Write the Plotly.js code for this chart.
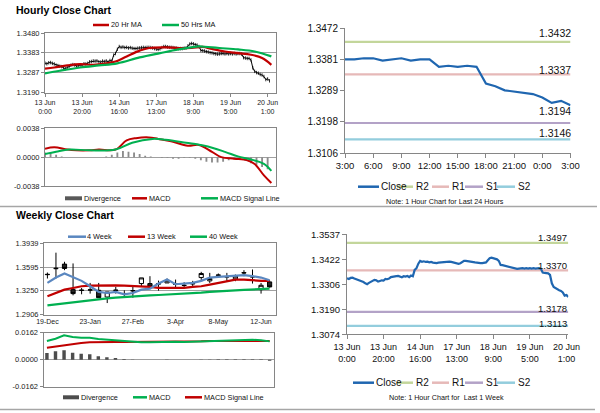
<!DOCTYPE html>
<html><head><meta charset="utf-8">
<script src="https://cdn.plot.ly/plotly-3.0.1.min.js"></script>
<style>html,body{margin:0;padding:0;background:#fff}#chart{width:600px;height:413px}</style>
</head><body><div id="chart"></div>
<script>
// ================= DATA =================
// Hourly (last 1 week), x = hour index
const hourTickIdx = [0, 20, 40, 60, 80, 100, 120];
const hourTickText = ['13 Jun<br>0:00','13 Jun<br>20:00','14 Jun<br>16:00','17 Jun<br>13:00','18 Jun<br>9:00','19 Jun<br>5:00','20 Jun<br>1:00'];
const hourPriceTicks = ['1.3190','1.3287','1.3383','1.3480'];
const hourMacdTicks = ['-0.0038','0.0000','0.0038'];
const hourClose = [
 1.3333,1.3330,1.3335,1.3336,1.3332,1.3329,1.3323,1.3321,1.3318,1.3316,
 1.3310,1.3306,1.3312,1.3318,1.3323,1.3326,1.3324,1.3318,1.3321,1.3324,
 1.3323,1.3330,1.3329,1.3332,1.3339,1.3341,1.3344,1.3343,1.3344,1.3339,
 1.3338,1.3343,1.3341,1.3344,1.3339,1.3346,1.3343,1.3372,1.3380,1.3401,
 1.3414,1.3410,1.3412,1.3409,1.3410,1.3407,1.3409,1.3406,1.3404,1.3404,
 1.3406,1.3407,1.3409,1.3410,1.3409,1.3410,1.3410,1.3409,1.3407,1.3404,
 1.3401,1.3400,1.3403,1.3409,1.3414,1.3414,1.3412,1.3410,1.3410,1.3409,
 1.3407,1.3406,1.3404,1.3404,1.3404,1.3406,1.3407,1.3417,1.3426,1.3429,
 1.3427,1.3423,1.3421,1.3414,1.3395,1.3394,1.3392,1.3389,1.3387,1.3384,
 1.3383,1.3380,1.3378,1.3377,1.3378,1.3380,1.3380,1.3378,1.3380,1.3378,
 1.3380,1.3378,1.3380,1.3378,1.3380,1.3380,1.3377,1.3360,1.3358,1.3356,
 1.3356,1.3349,1.3310,1.3293,1.3287,1.3284,1.3278,1.3275,1.3268,1.3253,
 1.3256,1.3247];
const ma20Idx = [0,5,12,19,26,33,38,44,51,56,65,72,79,85,90,97,104,111,117,122];
const ma20Val = [1.3306,1.3312,1.3322,1.3328,1.3325,1.3332,1.3341,1.3366,1.3394,1.3407,1.3410,1.3407,1.3407,1.3412,1.3402,1.3390,1.3382,1.3374,1.3358,1.3325];
const ma50Idx = [0,8,19,29,39,51,62,72,83,86,94,104,113,122];
const ma50Val = [1.3283,1.3296,1.3312,1.3322,1.3332,1.3361,1.3382,1.3400,1.3415,1.3413,1.3407,1.3400,1.3390,1.3366];
const macdHIdx = [0,5,12,17,24,29,38,44,49,56,61,68,77,83,90,95,102,109,113,118,122];
const macdHVal = [0.0011,0.0013,0.0010,0.0009,0.0009,0.0010,0.0010,0.0022,0.0025,0.0026,0.0024,0.0021,0.0015,0.0016,0.0007,0.0000,-0.0002,-0.0004,-0.0009,-0.0024,-0.0034];
const sigHIdx = [0,6,13,24,38,47,58,65,76,86,97,104,111,118,122];
const sigHVal = [0.0004,0.0007,0.0010,0.0009,0.0010,0.0019,0.0024,0.0023,0.0019,0.0015,0.0007,0.0001,-0.0003,-0.0009,-0.0018];
const divHVal = [0.0006,0.0005,0.0003,0.0001,0.0000,0.0000,0.0000,0.0000,0.0000,0.0000,
 0.0000,0.0001,0.0003,0.0006,0.0008,0.0007,0.0006,0.0004,0.0002,0.0001,
 0.0000,-0.0001,-0.0001,-0.0002,-0.0002,-0.0001,-0.0001,-0.0002,-0.0004,-0.0006,
 -0.0007,-0.0007,-0.0006,-0.0004,-0.0003,-0.0003,-0.0005,-0.0008,-0.0010,-0.0013,-0.0016];
const divHStep = 3; // one divergence bar every 3 hours

// Last 24 hours
const day24Ticks = ['3:00','6:00','9:00','12:00','15:00','18:00','21:00','0:00','3:00'];
const day24YTicks = ['1.3106','1.3198','1.3289','1.3381','1.3472'];
const close24 = [1.3381,1.3381,1.3384,1.3384,1.3377,1.3381,1.3384,1.3377,1.3381,1.3381,
 1.3359,1.3362,1.3359,1.3362,1.3359,1.3310,1.3302,1.3290,1.3287,1.3283,1.3279,1.3269,1.3253,1.3259,1.3246];
const levelNames = ['R2','R1','S1','S2'];
const levels24 = [1.3432, 1.3337, 1.3194, 1.3146];
const levelsWeek = [1.3497, 1.3370, 1.3178, 1.3113];
const weekHourYTicks = ['1.3074','1.3190','1.3306','1.3422','1.3537'];

// Weekly
const weekTickText = ['19-Dec','23-Jan','27-Feb','3-Apr','8-May','12-Jun'];
const weekPriceTicks = ['1.2906','1.3250','1.3595','1.3939'];
const weekMacdTicks = ['-0.0162','0.0000','0.0162'];
const weekOpen  = [1.3484,1.3570,1.3637,1.3267,1.3255,1.3260,1.3257,1.3160,1.3255,1.3207,1.3248,1.3355,1.3355,1.3348,1.3364,1.3343,1.3326,1.3350,1.3442,1.3394,1.3474,1.3450,1.3423,1.3508,1.3450,1.3267,1.3379];
const weekHigh  = [1.3515,1.3803,1.3671,1.3647,1.3291,1.3364,1.3364,1.3233,1.3306,1.3257,1.3325,1.3437,1.3462,1.3398,1.3428,1.3413,1.3374,1.3394,1.3525,1.3510,1.3501,1.3510,1.3486,1.3549,1.3559,1.3364,1.3403];
const weekLow   = [1.3428,1.3428,1.3549,1.3184,1.3199,1.3209,1.3150,1.3072,1.3209,1.3160,1.3150,1.3320,1.3282,1.3252,1.3374,1.3282,1.3291,1.3306,1.3394,1.3364,1.3452,1.3394,1.3389,1.3462,1.3355,1.3209,1.3296];
const weekClose = [1.3488,1.3576,1.3574,1.3209,1.3259,1.3264,1.3150,1.3233,1.3259,1.3211,1.3252,1.3437,1.3306,1.3352,1.3403,1.3347,1.3330,1.3354,1.3501,1.3428,1.3478,1.3454,1.3462,1.3512,1.3454,1.3330,1.3306];
const ma4w  = [1.3364,1.3442,1.3501,1.3452,1.3394,1.3316,1.3233,1.3218,1.3233,1.3199,1.3218,1.3267,1.3282,1.3355,1.3413,1.3345,1.3355,1.3364,1.3394,1.3442,1.3452,1.3462,1.3462,1.3476,1.3462,1.3442,1.3403];
const ma13w = [1.3170,1.3218,1.3267,1.3291,1.3316,1.3325,1.3330,1.3330,1.3330,1.3325,1.3320,1.3320,1.3306,1.3291,1.3291,1.3282,1.3291,1.3306,1.3316,1.3340,1.3364,1.3394,1.3413,1.3413,1.3403,1.3394,1.3394];
const ma40w = [1.3038,1.3053,1.3072,1.3087,1.3101,1.3121,1.3131,1.3140,1.3150,1.3160,1.3170,1.3179,1.3184,1.3189,1.3194,1.3199,1.3204,1.3209,1.3223,1.3233,1.3243,1.3252,1.3257,1.3262,1.3272,1.3277,1.3282];
const macdW = [0.0112,0.0126,0.0146,0.0136,0.0132,0.0132,0.0124,0.0120,0.0116,0.0110,0.0106,0.0104,0.0104,0.0106,0.0106,0.0108,0.0106,0.0108,0.0112,0.0114,0.0116,0.0118,0.0118,0.0120,0.0120,0.0116,0.0110];
const sigW  = [0.0072,0.0080,0.0088,0.0096,0.0100,0.0104,0.0106,0.0106,0.0106,0.0106,0.0106,0.0106,0.0106,0.0106,0.0106,0.0108,0.0108,0.0110,0.0110,0.0112,0.0112,0.0114,0.0116,0.0116,0.0116,0.0114,0.0112];
const divW  = [0.0040,0.0050,0.0056,0.0042,0.0036,0.0032,0.0020,0.0014,0.0010,0.0004,0.0001,0.0000,-0.0001,0.0000,0.0001,0.0000,-0.0001,0.0000,0.0001,0.0001,0.0002,0.0002,0.0002,0.0002,0.0003,0.0002,-0.0006];

// ================= STYLE / LAYOUT =================
const W = 600, H = 413;
const px = x => x / W, py = y => 1 - y / H;
const FONT = 'Liberation Sans, Arial, sans-serif';
const C = {red:'#c00000', green:'#00b050', blue:'#1f66b0', blue4:'#5a87c0',
  R2:'#c3d69b', R1:'#e6b9b8', S1:'#b3a2c7', S2:'#93cddd', grid:'#a0a0a0', axis:'#868686'};
const levelColors = [C.R2, C.R1, C.S1, C.S2];

const hIdx = hourClose.map((_, i) => i);
const dIdx = close24.map((_, i) => i);
const wIdx = weekClose.map((_, i) => i);
const divHIdx = divHVal.map((_, i) => i * divHStep);

const traces = [];
// Hourly price
traces.push({x: hIdx, y: hourClose, xaxis:'x', yaxis:'y', type:'scatter', mode:'lines+markers',
  line:{color:'#000', width:1}, marker:{symbol:'line-ns', size:2.5, line:{color:'#000', width:0.8}}});
traces.push({x: ma20Idx, y: ma20Val, xaxis:'x', yaxis:'y', type:'scatter', mode:'lines', line:{color:C.red, width:2.2, shape:'spline'}});
traces.push({x: ma50Idx, y: ma50Val, xaxis:'x', yaxis:'y', type:'scatter', mode:'lines', line:{color:C.green, width:2.2, shape:'spline'}});
// Hourly MACD
traces.push({x: divHIdx, y: divHVal, xaxis:'x2', yaxis:'y2', type:'bar', width:1, marker:{color:'#8c8c8c', line:{width:0}}});
traces.push({x: macdHIdx, y: macdHVal, xaxis:'x2', yaxis:'y2', type:'scatter', mode:'lines', line:{color:C.red, width:2, shape:'spline'}});
traces.push({x: sigHIdx, y: sigHVal, xaxis:'x2', yaxis:'y2', type:'scatter', mode:'lines', line:{color:C.green, width:2, shape:'spline'}});
// 24h
levels24.forEach((v, k) => traces.push({x:[0, 24], y:[v, v], xaxis:'x3', yaxis:'y3', type:'scatter', mode:'lines', line:{color:levelColors[k], width:2.2}}));
traces.push({x: dIdx, y: close24, xaxis:'x3', yaxis:'y3', type:'scatter', mode:'lines', line:{color:C.blue, width:2.2}});
// weekly price
traces.push({x: wIdx, y: ma40w, xaxis:'x4', yaxis:'y4', type:'scatter', mode:'lines', line:{color:C.green, width:2.2}});
traces.push({x: wIdx, y: ma13w, xaxis:'x4', yaxis:'y4', type:'scatter', mode:'lines', line:{color:C.red, width:2.2}});
traces.push({x: wIdx, y: ma4w, xaxis:'x4', yaxis:'y4', type:'scatter', mode:'lines', line:{color:C.blue4, width:2.2}});
traces.push({x: wIdx, open: weekOpen, high: weekHigh, low: weekLow, close: weekClose, xaxis:'x4', yaxis:'y4', type:'candlestick',
  whiskerwidth:0, increasing:{line:{color:'#000', width:1}, fillcolor:'#fff'}, decreasing:{line:{color:'#000', width:1}, fillcolor:'#262626'}});
// weekly MACD
traces.push({x: wIdx, y: divW, xaxis:'x5', yaxis:'y5', type:'bar', width:0.4, marker:{color:'#4d4d4d'}});
traces.push({x: wIdx, y: sigW, xaxis:'x5', yaxis:'y5', type:'scatter', mode:'lines', line:{color:C.red, width:2}});
traces.push({x: wIdx, y: macdW, xaxis:'x5', yaxis:'y5', type:'scatter', mode:'lines', line:{color:C.green, width:2}});
// week hourly
levelsWeek.forEach((v, k) => traces.push({x:[0, 121], y:[v, v], xaxis:'x6', yaxis:'y6', type:'scatter', mode:'lines', line:{color:levelColors[k], width:2.2}}));
traces.push({x: hIdx, y: hourClose, xaxis:'x6', yaxis:'y6', type:'scatter', mode:'lines', line:{color:C.blue, width:2.2}});

const even = (lo, hi, n) => Array.from({length:n}, (_, i) => lo + (hi - lo) * i / (n - 1));

function boxX(dom, range, extra) {
  return Object.assign({domain:dom, range:range, showline:true, linecolor:C.axis, linewidth:1, mirror:true,
    showgrid:false, zeroline:false, ticks:'outside', ticklen:3, tickcolor:C.axis, fixedrange:true, tickangle:0,
    tickfont:{family:FONT, size:7, color:'#222'}}, extra);
}
function boxY(dom, lo, hi, labels, extra) {
  return Object.assign({domain:dom, range:[lo, hi], showline:true, linecolor:C.axis, linewidth:1, mirror:true,
    showgrid:true, gridcolor:C.grid, gridwidth:1, zeroline:false, ticks:'outside', ticklen:3, tickcolor:C.axis,
    tickvals:even(lo, hi, labels.length), ticktext:labels, tickfont:{family:FONT, size:7.5, color:'#222'}, fixedrange:true}, extra);
}
function openX(dom, range, extra) {
  return Object.assign({domain:dom, range:range, showline:true, linecolor:C.axis, linewidth:1, mirror:false,
    showgrid:false, zeroline:false, ticks:'outside', ticklen:4, tickcolor:C.axis, fixedrange:true, tickangle:0,
    tickfont:{family:FONT, size:9.5, color:'#111'}}, extra);
}
function openY(dom, lo, hi, labels, extra) {
  return Object.assign({domain:dom, range:[lo, hi], showline:true, linecolor:C.axis, linewidth:1, mirror:false,
    showgrid:false, zeroline:false, ticks:'outside', ticklen:4, tickcolor:C.axis,
    tickvals:even(lo, hi, labels.length), ticktext:labels, tickfont:{family:FONT, size:10, color:'#111'}, fixedrange:true}, extra);
}

const layout = {
  width:W, height:H, margin:{l:0, r:0, t:0, b:0}, paper_bgcolor:'#fff', plot_bgcolor:'#fff', showlegend:false,
  xaxis:  boxX([px(45), px(276)], [0, 124.5], {tickvals:hourTickIdx, ticktext:hourTickText, anchor:'y'}),
  yaxis:  boxY([py(92.5), py(33)], 1.3190, 1.3480, hourPriceTicks, {anchor:'x'}),
  xaxis2: boxX([px(45), px(276)], [0, 124.5], {showticklabels:false, ticks:'', anchor:'y2'}),
  yaxis2: boxY([py(186), py(128.3)], -0.0038, 0.0038, hourMacdTicks, {anchor:'x2'}),
  xaxis3: openX([px(345), px(570.5)], [0, 24], {tickvals:even(0, 24, day24Ticks.length), ticktext:day24Ticks, anchor:'y3'}),
  yaxis3: openY([py(153), py(28.3)], 1.3106, 1.3472, day24YTicks, {anchor:'x3'}),
  xaxis4: boxX([px(44), px(276)], [-0.4, 26.75], {tickvals:[0,5,10,15,20,25], ticktext:weekTickText, anchor:'y4', rangeslider:{visible:false}, ticks:''}),
  yaxis4: boxY([py(314.5), py(243.3)], 1.2906, 1.3939, weekPriceTicks, {anchor:'x4'}),
  xaxis5: boxX([px(43.5), px(273.5)], [-0.4, 26.45], {showticklabels:false, ticks:'', anchor:'y5'}),
  yaxis5: boxY([py(386.7), py(332.7)], -0.0162, 0.0162, weekMacdTicks, {anchor:'x5'}),
  xaxis6: openX([px(347), px(568.3)], [0, 121], {tickvals:hourTickIdx, ticktext:hourTickText, anchor:'y6', tickfont:{family:FONT, size:9, color:'#111'}}),
  yaxis6: openY([py(334.3), py(234.3)], 1.3074, 1.3537, weekHourYTicks, {anchor:'x6', tickfont:{family:FONT, size:9.5, color:'#111'}}),
  shapes: [], annotations: []
};

const sh = layout.shapes, an = layout.annotations;
const hline = (x0, x1, y, color, w) => sh.push({type:'line', xref:'paper', yref:'paper', x0:px(x0), x1:px(x1), y0:py(y), y1:py(y), line:{color:color, width:w}});
const txt = (x, y, t, size, opts) => an.push(Object.assign({xref:'paper', yref:'paper', x:px(x), y:py(y), xanchor:'left', yanchor:'middle',
  text:t, showarrow:false, font:{family:FONT, size:size, color:'#111'}}, opts || {}));

// separators
hline(0, 597, 206.5, '#a6a6a6', 1.5);
hline(0, 595, 409.5, '#a6a6a6', 1.5);
// titles
txt(14, 9.5, '<b>Hourly Close Chart</b>', 10.5, {font:{family:FONT, size:10.5, color:'#000'}});
txt(14, 215, '<b>Weekly Close Chart</b>', 10.5, {font:{family:FONT, size:10.5, color:'#000'}});

// legend: hourly price
hline(93, 109, 25, C.red, 2.5);   txt(108.5, 25, '20 Hr MA', 7.3);
hline(162, 179, 25, C.green, 2.5); txt(178.5, 25, '50 Hrs MA', 7.3);
// legend: hourly MACD
hline(65, 82, 198.3, '#595959', 4); txt(81.5, 198.3, 'Divergence', 7.3);
hline(132, 147, 198.3, C.red, 2.5); txt(146.5, 198.3, 'MACD', 7.3);
hline(201, 218, 198.3, C.green, 2.5); txt(217.5, 198.3, 'MACD Signal Line', 7.3);
// legend: weekly price
hline(68, 86, 236.7, C.blue4, 2.5); txt(85.5, 236.7, '4 Week', 7.3);
hline(128, 145, 236.7, C.red, 2.5); txt(144.5, 236.7, '13 Week', 7.3);
hline(190, 207, 236.7, C.green, 2.5); txt(206.5, 236.7, '40 Week', 7.3);
// legend: weekly MACD
hline(63, 79, 397.3, '#4d4d4d', 4); txt(78.5, 397.3, 'Divergence', 7.3);
hline(133, 147, 397.3, C.green, 2.5); txt(146.5, 397.3, 'MACD', 7.3);
hline(185, 202, 397.3, C.red, 2.5); txt(201.5, 397.3, 'MACD Signal Line', 7.3);

// legends: right panels
function rightLegend(y, closeX0, closeX1) {
  hline(closeX0, closeX1, y, C.blue, 2.5); txt(closeX1, y, 'Close', 10, {font:{family:FONT, size:10, color:'#111'}});
  const xs = [[397, 413], [432, 449], [465, 483], [497, 515]];
  levelNames.forEach((n, k) => {
    hline(xs[k][0], xs[k][1], y, levelColors[k], 2.5);
    txt(xs[k][1] + 0.5, y, n, 10, {font:{family:FONT, size:10, color:'#111'}});
  });
}
rightLegend(186.7, 358, 379);
rightLegend(382.7, 353, 374);
txt(445, 201, 'Note: 1 Hour Chart for Last 24 Hours', 7.2, {xanchor:'center', font:{family:FONT, size:7.2, color:'#111'}});
txt(446, 397.7, 'Note: 1 Hour Chart for  Last 1 Week', 7.2, {xanchor:'center', font:{family:FONT, size:7.2, color:'#111'}});

// level value labels
const shift24 = [9, 4.5, 12, 6];
levels24.forEach((v, k) => an.push({xref:'x3', yref:'y3', x:24, y:v, xanchor:'right', yanchor:'middle', yshift:shift24[k], xshift:2,
  text:v.toFixed(4), showarrow:false, font:{family:FONT, size:10.5, color:'#111'}}));
const shiftW = [5.5, 5, 3, 2];
levelsWeek.forEach((v, k) => an.push({xref:'x6', yref:'y6', x:121, y:v, xanchor:'right', yanchor:'middle', yshift:shiftW[k], xshift:1,
  text:v.toFixed(4), showarrow:false, font:{family:FONT, size:9.5, color:'#111'}}));

Plotly.newPlot('chart', traces, layout, {staticPlot:true, displayModeBar:false});
</script>
</body></html>
